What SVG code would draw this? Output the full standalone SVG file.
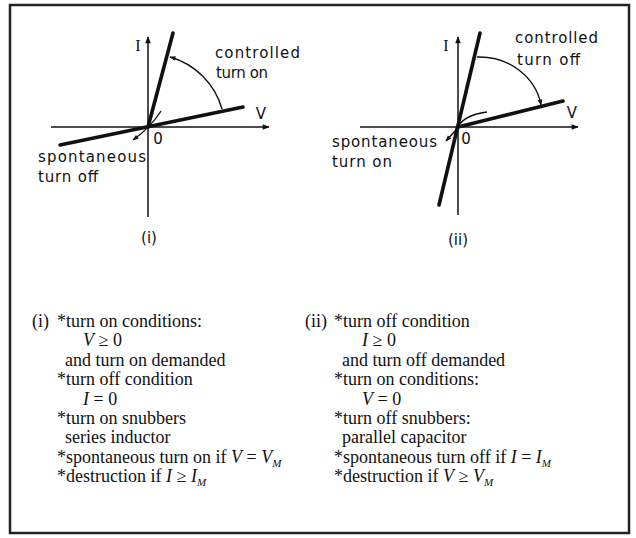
<svg xmlns="http://www.w3.org/2000/svg" width="636" height="538" viewBox="0 0 636 538">
<style>
.axis{stroke:#111;stroke-width:1.5;fill:none}
.thick{stroke:#111;stroke-width:3.6;fill:none;stroke-linecap:round}
.arc{stroke:#111;stroke-width:1.4;fill:none}
.lbl{font-family:"DejaVu Sans","Liberation Sans",sans-serif;font-size:15px;fill:#111}
.ax{font-family:"Liberation Serif",serif;font-size:16px;fill:#111}
.note{font-family:"Liberation Serif","Times New Roman",serif;font-size:18px;fill:#111}
.v{font-style:italic}
.sub{font-style:italic;font-size:11px}
</style>
<defs>
<marker id="ah" viewBox="0 0 10 10" refX="9" refY="5" markerWidth="9" markerHeight="7" orient="auto" markerUnits="userSpaceOnUse"><path d="M0,1 L10,5 L0,9 z" fill="#111"/></marker>
<marker id="sh" viewBox="0 0 10 10" refX="9" refY="5" markerWidth="8" markerHeight="6" orient="auto" markerUnits="userSpaceOnUse"><path d="M0,1 L10,5 L0,9 z" fill="#111"/></marker>
</defs>
<rect x="10" y="5" width="619" height="528" fill="#fff" stroke="#222" stroke-width="2.5"/>

<g id="plot-i">
<line class="axis" x1="148" y1="217" x2="148" y2="37" marker-end="url(#ah)"/>
<line class="axis" x1="51" y1="127" x2="269" y2="127" marker-end="url(#ah)"/>
<line class="thick" x1="148" y1="127" x2="173" y2="33"/>
<line class="thick" x1="60" y1="145" x2="243" y2="107"/>
<path class="arc" d="M222,109 A75,75 0 0 0 170,57" marker-end="url(#sh)"/>
<path class="arc" d="M161,111 Q151,127 133,140" marker-end="url(#sh)"/>
<text class="ax" x="138" y="51" text-anchor="middle">I</text>
<text class="lbl" x="261" y="119" text-anchor="middle">V</text>
<text class="lbl" x="158" y="144" text-anchor="middle">0</text>
<text class="lbl" x="215" y="58" textLength="85" lengthAdjust="spacing">controlled</text>
<text class="lbl" x="216" y="78" textLength="52" lengthAdjust="spacing">turn on</text>
<text class="lbl" x="38" y="162" textLength="108" lengthAdjust="spacing">spontaneous</text>
<text class="lbl" x="38" y="182" textLength="60" lengthAdjust="spacing">turn off</text>
<text class="lbl" x="149" y="243" text-anchor="middle">(i)</text>
</g>

<g id="plot-ii">
<line class="axis" x1="458" y1="215" x2="458" y2="37" marker-end="url(#ah)"/>
<line class="axis" x1="360" y1="127" x2="578" y2="127" marker-end="url(#ah)"/>
<line class="thick" x1="439" y1="205" x2="480" y2="33"/>
<line class="thick" x1="458" y1="127" x2="563" y2="101"/>
<path class="arc" d="M477,57 C510,56 536,78 541,105" marker-end="url(#sh)"/>
<path class="arc" d="M487,112 C470,114 460,120 455,131 L446,141" marker-end="url(#sh)"/>
<text class="ax" x="446" y="51" text-anchor="middle">I</text>
<text class="lbl" x="572" y="118" text-anchor="middle">V</text>
<text class="lbl" x="466" y="144" text-anchor="middle">0</text>
<text class="lbl" x="515" y="43" textLength="83" lengthAdjust="spacing">controlled</text>
<text class="lbl" x="517" y="65" textLength="63" lengthAdjust="spacing">turn off</text>
<text class="lbl" x="332" y="147" textLength="105" lengthAdjust="spacing">spontaneous</text>
<text class="lbl" x="332" y="167" textLength="60" lengthAdjust="spacing">turn on</text>
<text class="lbl" x="458" y="245" text-anchor="middle">(ii)</text>
</g>

<g id="notes-i" class="note">
<text x="32" y="327">(i)</text>
<text x="57" y="327">*turn on conditions:</text>
<text x="83" y="346.4"><tspan class="v">V</tspan> ≥ 0</text>
<text x="65" y="365.8">and turn on demanded</text>
<text x="57" y="385.2">*turn off condition</text>
<text x="83" y="404.6"><tspan class="v">I</tspan> = 0</text>
<text x="57" y="424">*turn on snubbers</text>
<text x="65" y="443.4">series inductor</text>
<text x="57" y="462.8">*spontaneous turn on if <tspan class="v">V</tspan> = <tspan class="v">V</tspan><tspan class="sub" dy="4">M</tspan></text>
<text x="57" y="482.2">*destruction if <tspan class="v">I</tspan> ≥ <tspan class="v">I</tspan><tspan class="sub" dy="4">M</tspan></text>
</g>

<g id="notes-ii" class="note">
<text x="305" y="327">(ii)</text>
<text x="334" y="327">*turn off condition</text>
<text x="362" y="346.4"><tspan class="v">I</tspan> ≥ 0</text>
<text x="342" y="365.8">and turn off demanded</text>
<text x="334" y="385.2">*turn on conditions:</text>
<text x="362" y="404.6"><tspan class="v">V</tspan> = 0</text>
<text x="334" y="424">*turn off snubbers:</text>
<text x="342" y="443.4">parallel capacitor</text>
<text x="334" y="462.8">*spontaneous turn off if <tspan class="v">I</tspan> = <tspan class="v">I</tspan><tspan class="sub" dy="4">M</tspan></text>
<text x="334" y="482.2">*destruction if <tspan class="v">V</tspan> ≥ <tspan class="v">V</tspan><tspan class="sub" dy="4">M</tspan></text>
</g>
</svg>
